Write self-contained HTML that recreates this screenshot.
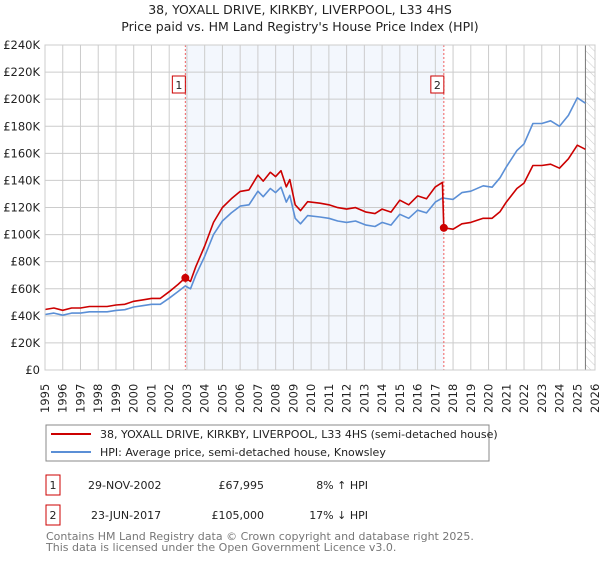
<!DOCTYPE html>
<html><head><meta charset="utf-8"><style>
body{margin:0;background:#fff;font-family:"Liberation Sans","DejaVu Sans",sans-serif;}
svg text{font-family:"DejaVu Sans","Liberation Sans",sans-serif;}
</style></head><body>
<svg id="chart" width="600" height="560" viewBox="0 0 600 560" xmlns="http://www.w3.org/2000/svg">
<defs><pattern id="hatch" width="6" height="6" patternUnits="userSpaceOnUse" patternTransform="rotate(-45)"><line x1="0" y1="0" x2="0" y2="6" stroke="#ccc" stroke-width="1"/></pattern></defs>
<text x="300" y="14" text-anchor="middle" font-size="12.5" fill="#222">38, YOXALL DRIVE, KIRKBY, LIVERPOOL, L33 4HS</text>
<text x="300" y="31" text-anchor="middle" font-size="12.5" fill="#222">Price paid vs. HM Land Registry's House Price Index (HPI)</text>
<g id="plot"></g>
<rect x="46" y="425" width="443" height="36" fill="#fff" stroke="#888"/>
<line x1="51" y1="434" x2="91" y2="434" stroke="#cc0000" stroke-width="2"/>
<text x="100" y="438" font-size="11" fill="#222">38, YOXALL DRIVE, KIRKBY, LIVERPOOL, L33 4HS (semi-detached house)</text>
<line x1="51" y1="452" x2="91" y2="452" stroke="#5b8fd6" stroke-width="2"/>
<text x="100" y="456" font-size="11" fill="#222">HPI: Average price, semi-detached house, Knowsley</text>
<g font-size="11" fill="#222">
<rect x="46" y="475" width="14" height="20" fill="#fff" stroke="#cc0000"/><text x="53" y="489" text-anchor="middle">1</text>
<text x="88" y="489">29-NOV-2002</text><text x="264" y="489" text-anchor="end">£67,995</text><text x="368" y="489" text-anchor="end">8% ↑ HPI</text></g>
<g font-size="11" fill="#222">
<rect x="46" y="505" width="14" height="20" fill="#fff" stroke="#cc0000"/><text x="53" y="519" text-anchor="middle">2</text>
<text x="91" y="519">23-JUN-2017</text><text x="264" y="519" text-anchor="end">£105,000</text><text x="368" y="519" text-anchor="end">17% ↓ HPI</text></g>
<text x="46" y="540" font-size="11" fill="#777">Contains HM Land Registry data © Crown copyright and database right 2025.</text>
<text x="46" y="551" font-size="11" fill="#777">This data is licensed under the Open Government Licence v3.0.</text>
</svg>
<script>
const hpiYears=[1995,1995.5,1996,1996.5,1997,1997.5,1998,1998.5,1999,1999.5,2000,2000.5,2001,2001.5,2002,2002.5,2002.9,2003.2,2003.5,2004,2004.5,2005,2005.5,2006,2006.5,2007,2007.3,2007.7,2008,2008.3,2008.6,2008.8,2009.1,2009.4,2009.8,2010.5,2011,2011.5,2012,2012.5,2013.1,2013.6,2014,2014.5,2015,2015.5,2016,2016.5,2017,2017.4,2018,2018.5,2019,2019.7,2020.2,2020.65,2021,2021.6,2022,2022.5,2023,2023.5,2024,2024.5,2025,2025.46];
const hpiValues=[41,42,40.5,42,42,43,43,43,44,44.5,46.5,47.5,48.5,48.5,53,58,62,60,70,84,100,110,116,121,122,132,128,134,131,135,124,129,112,108,114,113,112,110,109,110,107,106,109,107,115,112,118,116,124,127,126,131,132,136,135,142,150,162,167,182,182,184,180,188,201,197];
const propYears=[1995,1995.5,1996,1996.5,1997,1997.5,1998,1998.5,1999,1999.5,2000,2000.5,2001,2001.5,2002,2002.5,2002.9,2003.2,2003.5,2004,2004.5,2005,2005.5,2006,2006.5,2007,2007.3,2007.7,2008,2008.3,2008.6,2008.8,2009.1,2009.4,2009.8,2010.5,2011,2011.5,2012,2012.5,2013.1,2013.6,2014,2014.5,2015,2015.5,2016,2016.5,2017,2017.4,2017.48,2018,2018.5,2019,2019.7,2020.2,2020.65,2021,2021.6,2022,2022.5,2023,2023.5,2024,2024.5,2025,2025.46];
const propValues=[44.7,45.8,44.1,45.8,45.8,46.9,46.9,46.9,48,48.5,50.7,51.8,52.9,52.9,57.8,63.2,68,65.4,76.3,91.6,109,120,126.4,131.9,133,143.9,139.5,146,142.8,147.2,135.2,140.6,122,117.7,124.3,123.2,122,119.9,118.8,119.9,116.6,115.5,118.8,116.6,125.4,122,128.6,126.4,135.2,138.5,105,104,108,109,112,112,117,124,134,138,151,151,152,149,156,166,163];
const saleYears=[2002.91,2017.48];
const saleValues=[67.995,105];
const saleLabels=["1","2"];
const yTicks=[0,20,40,60,80,100,120,140,160,180,200,220,240];
const xTicks=[1995,1996,1997,1998,1999,2000,2001,2002,2003,2004,2005,2006,2007,2008,2009,2010,2011,2012,2013,2014,2015,2016,2017,2018,2019,2020,2021,2022,2023,2024,2025,2026];
const X0=45,X1=595,Y0=370,Y1=45;
const sx=y=>X0+(y-1995)/(2026-1995)*(X1-X0);
const sy=v=>Y0-v/240*(Y0-Y1);
const NS="http://www.w3.org/2000/svg";
const g=document.getElementById('plot');
function mk(t,a){const e=document.createElementNS(NS,t);for(const k in a)e.setAttribute(k,a[k]);g.appendChild(e);return e;}
const shade=mk('rect',{x:sx(saleYears[0]),y:Y1,width:sx(saleYears[1])-sx(saleYears[0]),height:Y0-Y1,fill:'#eef3fc',opacity:0.7});


const hatch=mk('rect',{x:sx(2025.46),y:Y1,width:X1-sx(2025.46),height:Y0-Y1,fill:'url(#hatch)'});


yTicks.forEach(v=>{
  mk('line',{x1:X0,x2:X1,y1:sy(v),y2:sy(v),stroke:'#ccc','stroke-width':1});
  const t=mk('text',{x:40,y:sy(v)+4,'text-anchor':'end','font-size':11.5,fill:'#222'});
  t.textContent=v===0?'£0':'£'+v+'K';
  
  
});
xTicks.forEach(yr=>{
  mk('line',{x1:sx(yr),x2:sx(yr),y1:Y1,y2:Y0,stroke:'#ccc','stroke-width':1});
  const t=mk('text',{x:0,y:0,transform:`translate(${sx(yr)+4},${413}) rotate(-90)`,'font-size':11.5,fill:'#222'});
  t.textContent=yr;
  
  
});
mk('line',{x1:sx(2025.46),x2:sx(2025.46),y1:Y1,y2:Y0,stroke:'#777','stroke-width':1});
saleYears.forEach((yr,i)=>{
  const l=mk('line',{x1:sx(yr),x2:sx(yr),y1:Y1,y2:Y0,stroke:'#f06060','stroke-width':1,'stroke-dasharray':'2,2'});
  
  
});
function path(xs,vs,col,name){
  const d=xs.map((x,i)=>(i?'L':'M')+sx(x).toFixed(1)+','+sy(vs[i]).toFixed(1)).join('');
  const p=mk('path',{d:d,fill:'none',stroke:col,'stroke-width':1.6,'stroke-linejoin':'round'});
  
  
}
path(hpiYears,hpiValues,'#5b8fd6','hpi-line');
path(propYears,propValues,'#cc0000','property-price-line');
saleYears.forEach((yr,i)=>{
  const c=mk('circle',{cx:sx(yr),cy:sy(saleValues[i]),r:4,fill:'#cc0000'});
  
  
  const bx=sx(yr)-13;
  const r=mk('rect',{x:bx,y:76,width:13,height:17,fill:'#fff',stroke:'#cc0000'});
  
  
  const t=mk('text',{x:bx+6.5,y:89,'text-anchor':'middle','font-size':11,fill:'#222'});
  t.textContent=saleLabels[i];
  
  
});
mk('rect',{x:X0,y:Y1,width:X1-X0,height:Y0-Y1,fill:'none',stroke:'#ccc'});
</script>
</body></html>
